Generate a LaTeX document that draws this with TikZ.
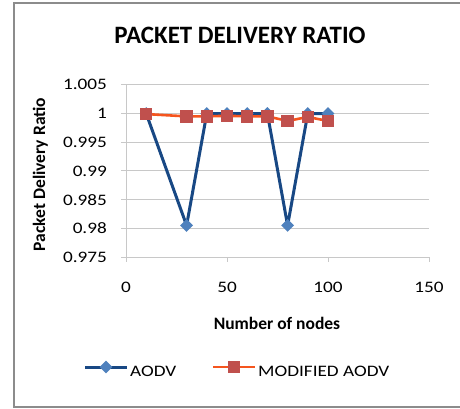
\documentclass[tikz,border=0pt]{standalone}
\usepackage{fontspec}
\setmainfont{Carlito}
\newfontfamily\widefont[FakeStretch=1.2]{Carlito}
\usepackage{tikz}
\usetikzlibrary{shapes.geometric, positioning}
\definecolor{aodvline}{RGB}{24,72,132}
\definecolor{aodvfill}{RGB}{79,129,189}
\definecolor{modline}{RGB}{245,85,30}
\definecolor{modfill}{RGB}{192,80,77}
\definecolor{gridgray}{RGB}{200,200,200}
\definecolor{framegray}{RGB}{140,140,140}

\begin{document}
\begin{tikzpicture}[x=1pt, y=-1pt,
    frame/.style={draw=framegray, line width=1.6pt},
    gridline/.style={draw=gridgray, line width=0.9pt},
    ticklab/.style={font=\widefont\fontsize{16}{18}\selectfont, inner sep=0},
    axlab/.style={font=\bfseries\fontsize{17.5}{20}\selectfont, inner sep=0},
    legtext/.style={font=\widefont\fontsize{16}{18}\selectfont, inner sep=0},
    aodv/.style={draw=aodvline, line width=3pt, line join=round},
    modaodv/.style={draw=modline, line width=2.6pt, line join=round},
    dmark/.style={diamond, fill=aodvfill, minimum size=13pt, inner sep=0},
    smark/.style={rectangle, fill=modfill, minimum size=12.5pt, inner sep=0}]
    \useasboundingbox (0,0) rectangle (460,408);
    \clip (0,0) rectangle (460,408);
    \draw[frame] (14,3) rectangle (480,407);

    \node[font=\bfseries\fontsize{25}{30}\selectfont, anchor=base, inner sep=0] (title) at (240,43) {PACKET DELIVERY RATIO};
    \node[axlab, rotate=90, anchor=base] (ylab) at (45,174.5) {Packet Delivery Ratio};
    \node[axlab, anchor=base] (xlab) at (277,329) {Number of nodes};

    \begin{scope}[shift={(126,257)}, x=2.02pt, y=5.74pt]
        \foreach \k/\lab in {0/0.975, 5/0.98, 10/0.985, 15/0.99, 20/0.995, 25/1, 30/1.005} {
            \draw[gridline] (0,\k) -- (150,\k);
            \draw[gridline] (0,\k) -- ++(-5pt,0pt);
            \node[ticklab, left=19pt] (yt\k) at (0,\k) {\lab};
        }
        \draw[gridline] (0,0) -- (0,30);
        \foreach \x in {0,50,100,150} {
            \draw[gridline] (\x,0) -- ++(0pt,-5pt);
            \node[ticklab, anchor=base, yshift=-35pt] (xt\x) at (\x,0) {\x};
        }

        \foreach \i/\x/\v in {1/10/25, 2/30/5.5, 3/40/25, 4/50/25, 5/60/25, 6/70/25, 7/80/5.5, 8/90/25, 9/100/25}
            \coordinate (a\i) at (\x,\v);
        \foreach \i/\x/\v in {1/10/24.9, 2/30/24.5, 3/40/24.5, 4/50/24.6, 5/60/24.5, 6/70/24.5, 7/80/23.7, 8/90/24.4, 9/100/23.7}
            \coordinate (m\i) at (\x,\v);

        \draw[aodv] (a1) \foreach \i in {2,...,9} {-- (a\i)};
        \foreach \i in {1,...,9}
            \node[dmark] (da\i) at (a\i) {};
        \draw[modaodv] (m1) \foreach \i in {2,...,9} {-- (m\i)};
        \foreach \i in {1,...,9}
            \node[smark] (sm\i) at (m\i) {};
    \end{scope}

    \coordinate (la1) at (85,367);
    \coordinate (la2) at (127,367);
    \draw[aodv] (la1) -- (la2);
    \node[dmark] (lda) at (106,367) {};
    \node[legtext, anchor=base west] (lta) at (130,376) {AODV};

    \coordinate (lm1) at (213,367);
    \coordinate (lm2) at (255,367);
    \draw[modaodv] (lm1) -- (lm2);
    \node[smark] (lsm) at (234,367) {};
    \node[legtext, anchor=base west] (ltm) at (258,376) {MODIFIED AODV};
\end{tikzpicture}
\end{document}
